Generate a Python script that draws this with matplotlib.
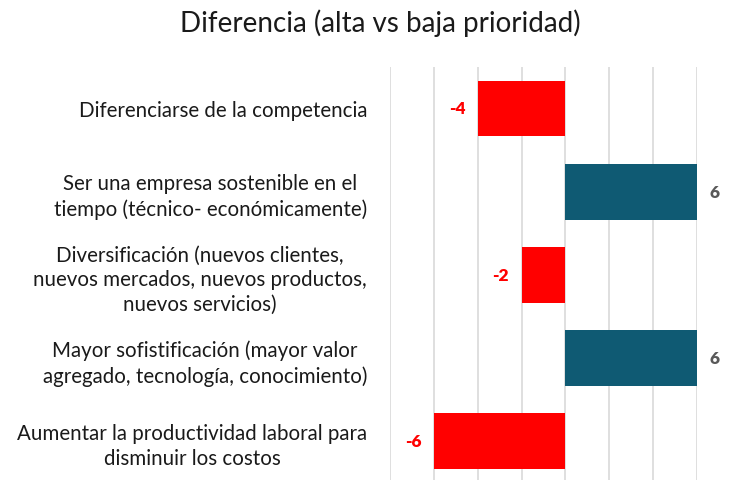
import matplotlib
matplotlib.use("Agg")
import matplotlib.pyplot as plt

# data
categories = [
    "Diferenciarse de la competencia",
    "Ser una empresa sostenible en el\ntiempo (técnico- económicamente)",
    "Diversificación (nuevos clientes,\nnuevos mercados, nuevos productos,\nnuevos servicios)",
    "Mayor sofistificación (mayor valor\nagregado, tecnología, conocimiento)",
    "Aumentar la productividad laboral para\ndisminuir los costos",
]
values = [-4, 6, -2, 6, -6]

neg_color = "#FF0000"
pos_color = "#0F5A73"

plt.rcParams['font.family'] = ['Lato', 'DejaVu Sans']

fig = plt.figure(figsize=(7.3, 4.81), dpi=100)
ax = fig.add_axes([390 / 730, -0.006, (697 - 390) / 730, 0.865])

y = list(range(len(values)))
colors = [neg_color if v < 0 else pos_color for v in values]
ax.barh(y, values, height=0.67, color=colors, zorder=3)

ax.set_xlim(-8, 6)
ax.set_ylim(len(values) - 0.5, -0.5)
ax.set_xticks(range(-8, 7, 2))
ax.set_xticklabels([])
ax.tick_params(axis='x', length=0)
ax.grid(axis='x', color='#D9D9D9', linewidth=1.2, zorder=0)
for s in ax.spines.values():
    s.set_visible(False)

ax.set_yticks(y)
ax.set_yticklabels(categories, fontsize=14.8, multialignment='center',
                   color='#1a1a1a', linespacing=1.3)
ax.tick_params(axis='y', length=0, pad=16.5)

for yi, v in zip(y, values):
    if v < 0:
        ax.annotate(str(v), (v, yi), xytext=(-9, 0), textcoords='offset points',
                    ha='right', va='center', fontsize=12.5, fontweight='heavy',
                    color=neg_color)
    else:
        ax.annotate(str(v), (v, yi), xytext=(9, 0), textcoords='offset points',
                    ha='left', va='center', fontsize=12.5, fontweight='heavy',
                    color='#595959')

fig.text(380 / 730, 1 - 23 / 481, "Diferencia (alta vs baja prioridad)",
         ha='center', va='center', fontsize=20, color='#1a1a1a')

fig.savefig("out.png", dpi=100)
